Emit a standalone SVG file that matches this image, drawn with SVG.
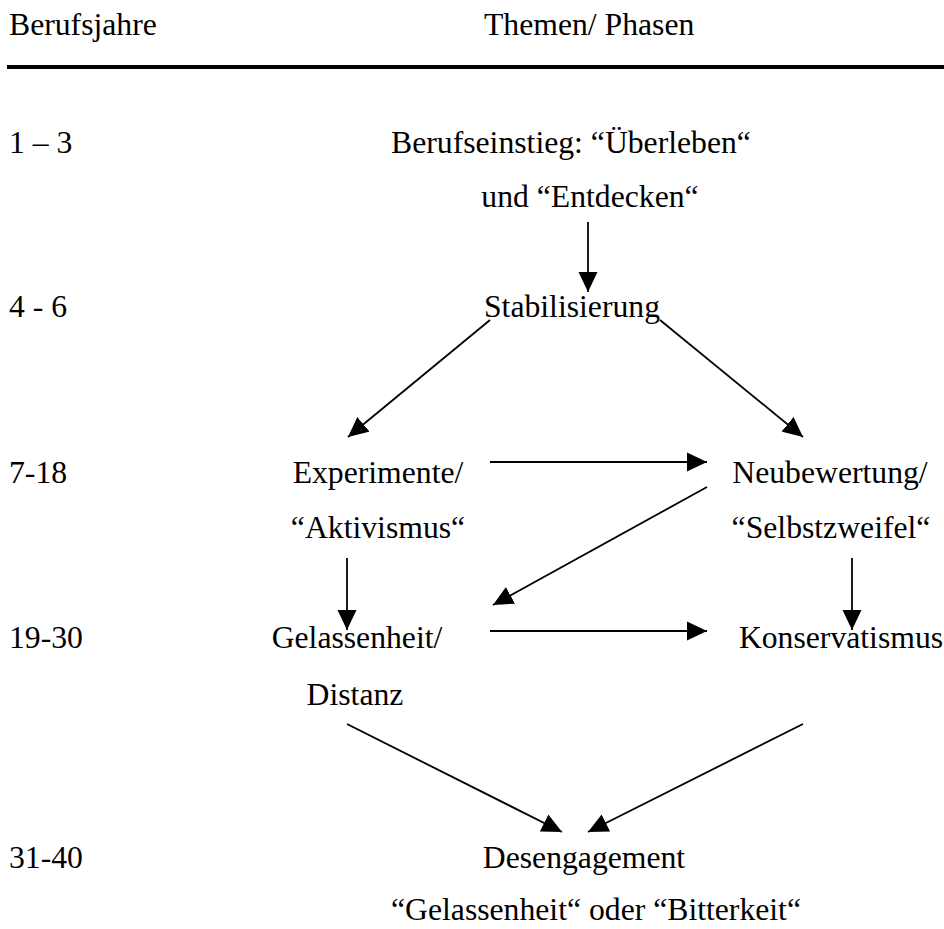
<svg xmlns="http://www.w3.org/2000/svg" width="944" height="929" viewBox="0 0 944 929">
  <style>
    text { font-family: "Liberation Serif", "Times New Roman", serif; font-size: 31.7px; fill: #000; }
    .c { text-anchor: middle; }
    .edge { stroke: #000; stroke-width: 1.8; fill: none; marker-end: url(#head); }
  </style>
  <defs>
    <marker id="head" viewBox="0 0 20 20" refX="20" refY="10" markerWidth="20" markerHeight="20" markerUnits="userSpaceOnUse" orient="auto">
      <path d="M0,0.5 L20,10 L0,19.5 Z" fill="#000"/>
    </marker>
  </defs>
  <rect width="944" height="929" fill="#fff"/>

  <!-- table header -->
  <g id="header">
    <text x="9" y="35">Berufsjahre</text>
    <text x="484" y="35">Themen/ Phasen</text>
    <rect x="7" y="65" width="937" height="4" fill="#000"/>
  </g>

  <!-- year column -->
  <g id="years">
    <text x="9" y="153">1 – 3</text>
    <text x="9" y="317">4 - 6</text>
    <text x="9" y="483">7-18</text>
    <text x="9" y="648">19-30</text>
    <text x="9" y="868">31-40</text>
  </g>

  <!-- phases -->
  <g id="berufseinstieg">
    <text class="c" x="571" y="153">Berufseinstieg: “Überleben“</text>
    <text class="c" x="590" y="207">und “Entdecken“</text>
  </g>
  <g id="stabilisierung">
    <text class="c" x="572" y="317">Stabilisierung</text>
  </g>
  <g id="experimente">
    <text class="c" x="378" y="483">Experimente/</text>
    <text class="c" x="378" y="538">“Aktivismus“</text>
  </g>
  <g id="neubewertung">
    <text class="c" x="830" y="483">Neubewertung/</text>
    <text class="c" x="831" y="538">“Selbstzweifel“</text>
  </g>
  <g id="gelassenheit">
    <text class="c" x="357" y="648">Gelassenheit/</text>
    <text class="c" x="355" y="705">Distanz</text>
  </g>
  <g id="konservatismus">
    <text class="c" x="841" y="648">Konservatismus</text>
  </g>
  <g id="desengagement">
    <text class="c" x="584" y="868">Desengagement</text>
    <text class="c" x="596" y="920">“Gelassenheit“ oder “Bitterkeit“</text>
  </g>

  <!-- connectors -->
  <g id="connectors">
    <line class="edge" x1="588" y1="222" x2="588" y2="292"/>
    <line class="edge" x1="490" y1="320" x2="348" y2="437"/>
    <line class="edge" x1="660" y1="320" x2="803" y2="437"/>
    <line class="edge" x1="490" y1="462" x2="707" y2="462"/>
    <line class="edge" x1="707" y1="487" x2="493" y2="605"/>
    <line class="edge" x1="347" y1="558" x2="347" y2="630"/>
    <line class="edge" x1="852" y1="558" x2="852" y2="630"/>
    <line class="edge" x1="490" y1="631" x2="707" y2="631"/>
    <line class="edge" x1="347" y1="724" x2="562" y2="832"/>
    <line class="edge" x1="803" y1="724" x2="588" y2="832"/>
  </g>
</svg>
